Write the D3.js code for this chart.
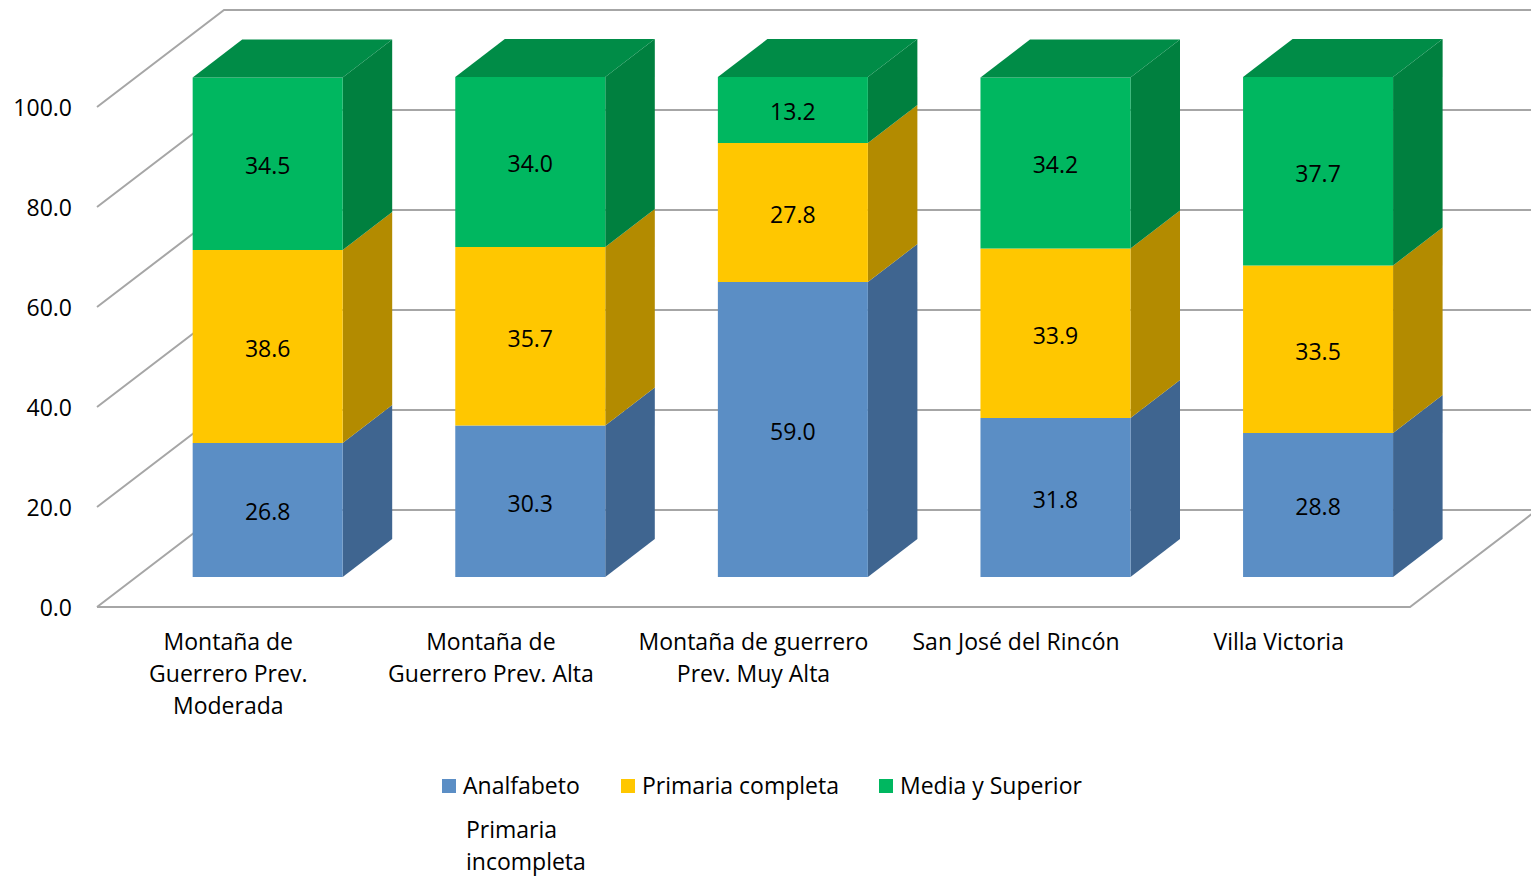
<!DOCTYPE html>
<html>
<head>
<meta charset="utf-8">
<script src="https://cdn.jsdelivr.net/npm/d3@7/dist/d3.min.js"></script>
<style>
  body { margin: 0; background: #fff; }
  svg { display: block; }
</style>
</head>
<body>
<svg id="chart" width="1531" height="876"></svg>
<script>
// data
const categories = [
  ['Montaña de', 'Guerrero Prev.', 'Moderada'],
  ['Montaña de', 'Guerrero Prev. Alta'],
  ['Montaña de guerrero', 'Prev. Muy Alta'],
  ['San José del Rincón'],
  ['Villa Victoria']
];
const seriesNames = ['Analfabeto', 'Primaria completa', 'Media y Superior'];
const analfabeto = [26.8, 30.3, 59.0, 31.8, 28.8];
const primariaCompleta = [38.6, 35.7, 27.8, 33.9, 33.5];
const mediaSuperior = [34.5, 34.0, 13.2, 34.2, 37.7];
const yTicks = [0, 20, 40, 60, 80, 100];

const seriesValues = [analfabeto, primariaCompleta, mediaSuperior];
const colors = [
  {front: '#5b8ec5', side: '#3f6590', top: '#4a76a8'},
  {front: '#ffc700', side: '#b38b00', top: '#d9a900'},
  {front: '#00b760', side: '#00803f', top: '#008c47'}
];

const font = "'Open Sans', sans-serif";
const fs = '23px';
const svg = d3.select('#chart');

// 3D projection: floor front plane and depth offset
const DX = 127, DY = 97;
const zFront = 0.31, zBack = 0.70;
const x = d3.scaleBand().domain(d3.range(categories.length)).range([97, 1410]);
const y = d3.scaleLinear().domain([0, 100]).range([607, 107]);
const proj = (px, v, z) => [px + z * DX, y(v) - z * DY];
const barW = 150;

const grid = svg.append('g')
  .attr('fill', 'none')
  .attr('stroke', '#a6a6a6')
  .attr('stroke-width', 2);

// gridlines on side and back walls
yTicks.forEach(t => {
  const a = proj(x.range()[0], t, 0);
  const b = proj(x.range()[0], t, 1);
  const c = proj(x.range()[1] + 10, t, 1);
  grid.append('path').attr('d', d3.line()([a, b, c]));
});

// floor
const f0 = proj(x.range()[0], 0, 0);
const f1 = proj(x.range()[1], 0, 0);
const f2 = proj(x.range()[1], 0, 1);
grid.append('path').attr('d', d3.line()([f0, f1, f2]));

// y axis labels
svg.append('g').selectAll('text')
  .data(yTicks)
  .join('text')
  .attr('x', 72)
  .attr('y', d => y(d))
  .attr('dy', '0.4em')
  .attr('text-anchor', 'end')
  .style('font-family', font)
  .style('font-size', '23px')
  .attr('fill', '#000')
  .text(d => d.toFixed(1));

// stacked 3D bars
const stack = categories.map((c, i) => {
  let base = 0;
  return seriesValues.map((vals, s) => {
    const seg = {i, s, v0: base, v1: base + vals[i], val: vals[i]};
    base += vals[i];
    return seg;
  });
});

const bars = svg.append('g');
stack.forEach(segs => {
  segs.forEach((seg, k) => {
    const cx = x(seg.i) + x.bandwidth() / 2;
    const xl = cx - barW / 2, xr = cx + barW / 2;
    const col = colors[seg.s];
    const g = bars.append('g');
    const frontPts = [proj(xl, seg.v0, zFront), proj(xr, seg.v0, zFront),
      proj(xr, seg.v1, zFront), proj(xl, seg.v1, zFront)];
    const sidePts = [proj(xr, seg.v0, zFront), proj(xr, seg.v0, zBack),
      proj(xr, seg.v1, zBack), proj(xr, seg.v1, zFront)];
    g.append('path').attr('d', d3.line()(sidePts) + 'Z').attr('fill', col.side);
    g.append('path').attr('d', d3.line()(frontPts) + 'Z').attr('fill', col.front);
    if (k === segs.length - 1) {
      const topPts = [proj(xl, seg.v1, zFront), proj(xr, seg.v1, zFront),
        proj(xr, seg.v1, zBack), proj(xl, seg.v1, zBack)];
      g.append('path').attr('d', d3.line()(topPts) + 'Z').attr('fill', col.top);
    }
    const lp = proj(cx, (seg.v0 + seg.v1) / 2, zFront);
    g.append('text')
      .attr('x', lp[0])
      .attr('y', lp[1])
      .attr('dy', '0.45em')
      .attr('text-anchor', 'middle')
      .style('font-family', font)
      .style('font-size', fs)
      .attr('fill', '#000')
      .text(seg.val.toFixed(1));
  });
});

// category labels
const cat = svg.append('g');
categories.forEach((lines, i) => {
  const t = cat.append('text')
    .attr('text-anchor', 'middle')
    .style('font-family', font)
    .style('font-size', fs)
    .attr('fill', '#000');
  lines.forEach((ln, j) => {
    t.append('tspan')
      .attr('x', x(i) + x.bandwidth() / 2)
      .attr('y', 642 + j * 32)
      .attr('dy', '0.35em')
      .text(ln);
  });
});

// legend
const legendItems = [
  {name: seriesNames[0], color: colors[0].front, x: 442, y: 786},
  {name: seriesNames[1], color: colors[1].front, x: 621, y: 786},
  {name: seriesNames[2], color: colors[2].front, x: 879, y: 786}
];
const legend = svg.append('g');
legendItems.forEach(it => {
  legend.append('rect')
    .attr('x', it.x).attr('y', it.y - 7)
    .attr('width', 14).attr('height', 14)
    .attr('fill', it.color);
  legend.append('text')
    .attr('x', it.x + 21).attr('y', it.y)
    .attr('dy', '0.35em')
    .style('font-family', font)
    .style('font-size', fs)
    .attr('fill', '#000')
    .text(it.name);
});
const extra = legend.append('text')
  .style('font-family', font)
  .style('font-size', fs)
  .attr('fill', '#000');
['Primaria', 'incompleta'].forEach((ln, j) => {
  extra.append('tspan').attr('x', 466).attr('y', 830 + j * 32).attr('dy', '0.35em').text(ln);
});
</script>
</body>
</html>
